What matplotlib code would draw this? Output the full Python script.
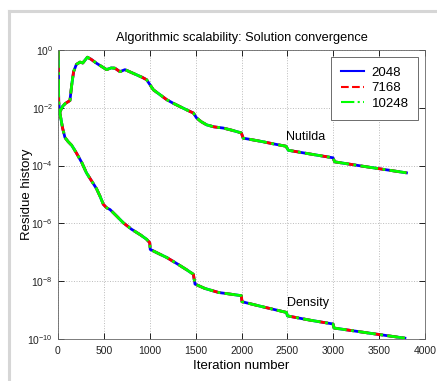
import numpy as np
import matplotlib
matplotlib.use('Agg')
import matplotlib.pyplot as plt
from matplotlib.lines import Line2D

plt.rcParams['font.family'] = ['Liberation Sans', 'DejaVu Sans']
plt.rcParams['mathtext.fontset'] = 'custom'
plt.rcParams['mathtext.rm'] = 'Liberation Sans'
plt.rcParams['mathtext.it'] = 'Liberation Sans'

# residue history (iteration, log10 of residue)
nutilda_iter = [0, 8, 20, 50, 80, 130, 150, 170, 200, 240, 270, 320, 360, 420, 480, 530,
                580, 620, 675, 730, 800, 857, 920, 966, 1040, 1100, 1185, 1260, 1330,
                1420, 1475, 1510, 1560, 1620, 1700, 1800, 1900, 1998, 2018, 2210, 2350,
                2485, 2510, 2750, 2997, 3015, 3400, 3797]
nutilda_exp = [0, -2.2, -2.15, -1.95, -1.85, -1.75, -1.2, -0.75, -0.5, -0.42, -0.45, -0.25,
               -0.32, -0.46, -0.58, -0.68, -0.62, -0.63, -0.75, -0.68, -0.78, -0.86, -0.95,
               -1.03, -1.38, -1.52, -1.72, -1.85, -1.96, -2.1, -2.18, -2.35, -2.48, -2.59,
               -2.66, -2.7, -2.78, -2.87, -3.05, -3.16, -3.25, -3.33, -3.47, -3.6, -3.73,
               -3.87, -4.06, -4.25]

density_iter = [0, 8, 20, 50, 76, 110, 150, 200, 260, 310, 360, 420, 458, 494, 530, 567,
                640, 712, 800, 900, 966, 1000, 1005, 1100, 1185, 1300, 1400, 1475, 1493,
                1600, 1750, 1998, 2005, 2250, 2490, 2500, 2750, 2997, 3008, 3400, 3780]
density_exp = [0, -1.8, -2.17, -2.7, -3.03, -3.17, -3.3, -3.56, -3.9, -4.25, -4.5, -4.8,
               -5.06, -5.34, -5.46, -5.52, -5.75, -5.98, -6.2, -6.4, -6.55, -6.67, -6.9,
               -7.05, -7.18, -7.4, -7.6, -7.76, -8.1, -8.25, -8.39, -8.5, -8.71, -8.9,
               -9.08, -9.2, -9.35, -9.48, -9.62, -9.8, -9.97]

series = ['2048', '7168', '10248']
colors = ['#0000ff', '#ff0000', '#00ff00']
styles = ['-', '--', '-.']

fig = plt.figure(figsize=(4.37, 3.81), dpi=100)
ax = fig.add_axes([0.1327, 0.1102, 0.84, 0.7586])

# light grey frame around the figure
fig.add_artist(Line2D([8.5/437, 1.0], [1-10.5/381, 1-10.5/381], color='#d6d6d6', lw=2.2))
fig.add_artist(Line2D([8.5/437, 8.5/437], [0, 1-10.5/381], color='#d6d6d6', lw=2.2))

nx, ny = np.array(nutilda_iter), 10.0**np.array(nutilda_exp)
dx, dy = np.array(density_iter), 10.0**np.array(density_exp)
for name, c, ls in zip(series, colors, styles):
    ax.semilogy(nx, ny, color=c, ls=ls, lw=2.0, label=name)
    ax.semilogy(dx, dy, color=c, ls=ls, lw=2.0)

ax.set_xlim(0, 4000)
ax.set_ylim(1e-10, 1)
ax.set_xticks(np.arange(0, 4001, 500))
ax.set_xticklabels(['0', '500', '1000', '1500', '2000', '2500', '3000', '3500', '4000'])
ax.set_yticks([1e-10, 1e-8, 1e-6, 1e-4, 1e-2, 1])
ax.set_yticklabels([r'10$^{-10}$', r'10$^{-8}$', r'10$^{-6}$', r'10$^{-4}$', r'10$^{-2}$', r'10$^{0}$'])
ax.minorticks_off()
ax.tick_params(direction='in', labelsize=7.5, length=4, top=True, right=True, width=0.6,
               labelcolor='#222222')
ax.tick_params(axis='x', pad=5)
ax.grid(True, ls=':', color='#bbbbbb', lw=0.7)
for s in ax.spines.values():
    s.set_linewidth(0.6)
    s.set_color('#666666')

ax.set_title('Algorithmic scalability: Solution convergence', fontsize=9.2, pad=6.5)
ax.set_xlabel('Iteration number', fontsize=9.5, labelpad=3)
ax.set_ylabel('Residue history', fontsize=9.5)
ax.yaxis.set_label_coords(-0.068, 0.5)

ax.text(2700, 10**-3.0, 'Nutilda', fontsize=9, ha='center', va='center')
ax.text(2720, 10**-8.75, 'Density', fontsize=9, ha='center', va='center')

leg = ax.legend(loc='upper right', fontsize=9.5, fancybox=False, framealpha=1,
                edgecolor='#555555', borderaxespad=0.5, handlelength=1.7,
                labelspacing=0.25, borderpad=0.75, handletextpad=0.6)
leg.get_frame().set_linewidth(0.6)
for h in leg.get_lines():
    h.set_linewidth(1.5)

fig.savefig('out.png', dpi=100)
